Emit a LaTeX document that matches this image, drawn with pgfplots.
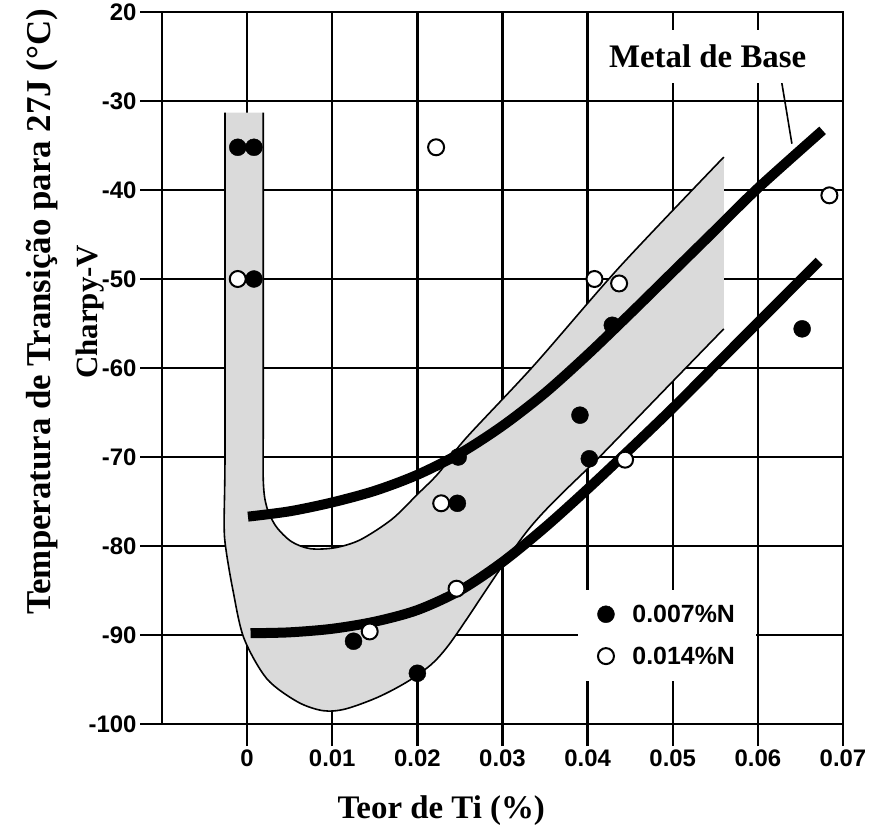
\documentclass[border=0pt]{standalone}
\usepackage{fontspec}
\setmainfont{Liberation Serif}
\newfontfamily\sansf{Liberation Sans}
\usepackage{pgfplots}
\pgfplotsset{compat=1.18}
\usepgfplotslibrary{fillbetween}
\definecolor{band}{RGB}{218,218,218}

\begin{document}
\begin{tikzpicture}
\begin{axis}[
  set layers,
  at={(0,0)}, anchor=south west,
  scale only axis, width=681bp, height=712bp,
  xmin=-0.01, xmax=0.07, ymin=-100, ymax=-20,
  scaled x ticks=false, scaled y ticks=false,
  xtick={0,0.01,0.02,0.03,0.04,0.05,0.06,0.07},
  xticklabels={0,0.01,0.02,0.03,0.04,0.05,0.06,0.07},
  ytick={-100,-90,-80,-70,-60,-50,-40,-30,-20},
  yticklabels={-100,-90,-80,-70,-60,-50,-40,-30,20},
  xtick pos=bottom, ytick pos=left,
  grid=major,
  major grid style={black, line width=2.4bp},
  tick align=outside,
  major tick length=22bp,
  tick style={black, line width=2.4bp},
  axis line style={black, line width=2.6bp},
  tick label style={font=\sansf\bfseries\fontsize{24}{28}\selectfont},
  xlabel={Teor de Ti (\%)},
  xlabel style={font=\bfseries\fontsize{33}{40}\selectfont, at={(axis description cs:0.41,-0.122)}, anchor=center},
  ylabel={{\fontsize{35}{47}\selectfont Temperatura de Transição para 27J (°C)}\\{\fontsize{31}{47}\selectfont Charpy-V}},
  ylabel style={align=center, font=\bfseries\fontsize{35}{47}\selectfont, at={(axis description cs:-0.1425,0.579)}, anchor=center},
  legend image code/.code={\draw[#1] plot coordinates {(0bp,0bp)};},
  legend cell align=left,
  legend style={draw=none, fill=white, at={(axis cs:0.0389,-84.9)}, anchor=north west,
    inner xsep=19bp, inner ysep=13bp, font=\sansf\bfseries\fontsize{25}{30}\selectfont, row sep=19bp,
    /tikz/every odd column/.append style={column sep=16bp}},
]
% band outlines
\addplot[name path=outer, black, line width=1.6bp, smooth, forget plot] coordinates {
 (-0.0026,-31.3) (-0.0026,-50) (-0.0026,-70) (-0.0027,-77.6) (-0.0025,-80.3) (-0.0017,-84.8)
 (-0.0004,-90.3) (0.0023,-94.9) (0.0059,-97.5) (0.0089,-98.5) (0.0116,-98.3) (0.0158,-96.8)
 (0.0200,-94.5) (0.0237,-91.1) (0.0330,-78.2) (0.0416,-69.8) (0.0495,-62.0) (0.0560,-55.6)};
\addplot[name path=inner, black, line width=1.6bp, smooth, forget plot] coordinates {
 (0.0019,-31.3) (0.0019,-50) (0.0019,-65) (0.0019,-72.7) (0.0023,-75.6) (0.0034,-77.8)
 (0.0052,-79.5) (0.0074,-80.3) (0.0103,-80.2) (0.0133,-79.3) (0.0170,-77.0) (0.0200,-74.2)
 (0.0225,-71.8) (0.0256,-68.0) (0.0337,-59.7) (0.0438,-48.6) (0.0560,-36.3)};
\addplot[band, forget plot] fill between[of=outer and inner];
% thick curves
\addplot[black, line width=10bp, smooth, forget plot] coordinates {
 (0.0001,-76.7) (0.005,-76.1) (0.010,-75.1) (0.015,-73.8) (0.020,-72.0) (0.025,-69.6)
 (0.030,-66.5) (0.035,-62.8) (0.040,-58.5) (0.045,-53.9) (0.050,-49.2) (0.055,-44.5)
 (0.060,-39.8) (0.0676,-33.3)};
\addplot[black, line width=10bp, smooth, forget plot] coordinates {
 (0.0004,-89.8) (0.005,-89.7) (0.010,-89.3) (0.015,-88.5) (0.020,-87.2) (0.025,-85.0)
 (0.030,-81.8) (0.035,-77.9) (0.040,-73.6) (0.045,-69.1) (0.050,-64.5) (0.055,-59.7)
 (0.060,-54.9) (0.0672,-48.0)};
% leader line
\addplot[black, line width=1.6bp, forget plot] coordinates {(0.0628,-27.9) (0.0640,-34.8)};
% open points 0.014%N
\addplot[only marks, mark=*, mark size=8bp, mark options={fill=white, draw=black, line width=2bp}, forget plot] coordinates {
 (-0.0011,-50) (0.0222,-35.2) (0.0228,-75.2) (0.0246,-84.8) (0.0408,-50.0) (0.0437,-50.5) (0.0444,-70.3) (0.0684,-40.6)};
% solid points 0.007%N
\addplot[only marks, mark=*, mark size=8.5bp, mark options={fill=black, draw=black}, forget plot] coordinates {
 (-0.0011,-35.2) (0.0008,-35.2) (0.0008,-50) (0.0125,-90.7) (0.0200,-94.3) (0.0248,-70.0)
 (0.0247,-75.2) (0.0391,-65.3) (0.0402,-70.2) (0.0429,-55.2) (0.0652,-55.6)};
% open point drawn on top
\addplot[only marks, mark=*, mark size=8bp, mark options={fill=white, draw=black, line width=2bp}, forget plot] coordinates {
 (0.0144,-89.6)};
\node[fill=white, inner xsep=6bp, inner ysep=15bp, font=\bfseries\fontsize{33}{40}\selectfont] at (axis cs:0.0541,-25.0) {Metal de Base};
\addlegendimage{black, mark=*, mark size=8.5bp, mark options={fill=black, draw=black}}
\addlegendimage{black, mark=*, mark size=8bp, mark options={fill=white, draw=black, line width=2bp}}
\legend{0.007\%N, 0.014\%N}
\end{axis}
\pgfresetboundingbox
\path[use as bounding box] (-162bp,-105bp) rectangle (715bp,724bp);
\end{tikzpicture}
\end{document}
